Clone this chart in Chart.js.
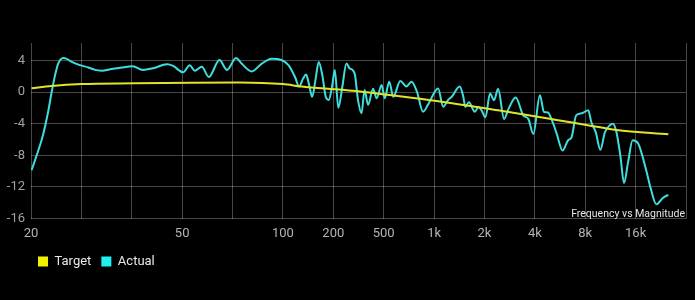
<!DOCTYPE html>
<html>
<head>
<meta charset="utf-8">
<script src="https://cdn.jsdelivr.net/npm/chart.js@4.4.1/dist/chart.umd.min.js"></script>
<style>
  html, body { margin: 0; padding: 0; background: #000; }
  #wrap { width: 695px; height: 300px; position: relative; }
</style>
</head>
<body>
<div id="wrap"><canvas id="freqChart"></canvas></div>
<script>
// Frequency response - target vs measured
// x positions are in axis-slot units (one slot per grid column)
const tickLabels = ['20', '', '', '50', '', '100', '200', '500', '1k', '2k', '4k', '8k', '16k', ''];
const yTicks = [-16, -12, -8, -4, 0, 4];

const targetPos = [0.01, 0.41, 1.0, 2.06, 3.2, 4.15, 5.0, 5.37, 6.03, 6.23, 7.2, 8.12, 9.3, 10.4, 11.05, 11.62, 12.65];
const targetDb  = [0.47, 0.76, 1.0, 1.1, 1.18, 1.2, 1.0, 0.7, 0.35, 0.25, -0.45, -1.2, -2.35, -3.5, -4.2, -4.8, -5.35];

const actualPos = [
  0.01, 0.14, 0.24, 0.34, 0.41, 0.48, 0.54, 0.64, 0.71, 0.81, 0.97, 1.14, 1.27, 1.40, 1.60, 1.80,
  2.02, 2.22, 2.42, 2.70, 2.82, 3.02, 3.15, 3.25, 3.39, 3.53, 3.74, 3.89, 4.07, 4.18, 4.38, 4.58,
  4.78, 4.97, 5.11, 5.24, 5.32, 5.40, 5.46, 5.52, 5.58, 5.65, 5.71, 5.78, 5.85, 5.91, 5.98, 6.03,
  6.10, 6.18, 6.26, 6.32, 6.38, 6.43, 6.49, 6.56, 6.62, 6.69, 6.79, 6.86, 6.96, 7.02, 7.11, 7.19,
  7.33, 7.45, 7.55, 7.66, 7.78, 7.88, 8.08, 8.18, 8.28, 8.35, 8.51, 8.58, 8.62, 8.69, 8.81, 8.88,
  8.94, 9.02, 9.11, 9.19, 9.27, 9.39, 9.48, 9.62, 9.77, 9.87, 9.97, 10.10, 10.18, 10.26, 10.34,
  10.43, 10.55, 10.66, 10.73, 10.82, 10.93, 11.06, 11.12, 11.21, 11.30, 11.39, 11.49, 11.55, 11.62,
  11.70, 11.77, 11.85, 11.94, 12.05, 12.21, 12.30, 12.41, 12.54, 12.65
];
const actualDb = [
  -9.9, -7.5, -5.4, -2.5, 0, 2.2, 3.6, 4.3, 4.2, 3.8, 3.4, 3.1, 2.8, 2.7, 2.9, 3.1,
  3.25, 2.8, 3.0, 3.5, 3.3, 2.5, 3.4, 2.7, 3.2, 1.9, 4.05, 2.8, 4.3, 3.6, 2.6, 3.6,
  4.2, 4.05, 3.4, 1.9, 0.7, 1.7, 2.2, 0.9, -0.6, 1.7, 3.8, 2.2, -0.6, -1.0, 0.9, 2.8,
  -2.0, 0.7, 3.6, 3.0, 2.8, 2.15, -1.0, -2.7, 0.25, -1.6, 0.4, -0.8, 0.9, -0.8, 1.3, -0.6,
  1.4, 0.7, 1.3, 0.05, -2.5, -1.6, 0.45, -1.85, -1.0, -0.6, 0.7, -0.6, -1.9, -1.3, -2.5, -1.9,
  -2.3, -3.2, -0.2, -1.05, 0.4, -3.4, -2.1, -0.7, -2.95, -3.4, -5.3, -0.4, -2.5, -2.6, -3.6,
  -5.2, -7.4, -6.1, -5.7, -2.95, -2.7, -2.3, -3.8, -5.1, -7.3, -5.1, -4.2, -4.0, -5.1,
  -8.2, -11.5, -8.9, -6.1, -6.5, -9.9, -12.2, -14.2, -13.4, -13.0
];

const toPoints = (xs, ys) => xs.map((x, i) => ({ x: x, y: ys[i] }));

// small caption in the lower right corner of the plot
const captionPlugin = {
  id: 'caption',
  afterLayout(chart) {
    // legend sits indented under the y axis labels
    if (chart.legend) chart.legend.left = 28;
  },
  afterDraw(chart) {
    const { ctx, chartArea } = chart;
    ctx.save();
    ctx.font = '10.5px Roboto';
    ctx.fillStyle = '#e6e6e6';
    ctx.textAlign = 'right';
    ctx.textBaseline = 'alphabetic';
    ctx.fillText('Frequency vs Magnitude', chartArea.right - 1, chartArea.bottom - 1.5);
    ctx.restore();
  }
};

const gridColor = 'rgba(255,255,255,0.28)';

new Chart(document.getElementById('freqChart'), {
  type: 'line',
  data: {
    datasets: [{
      label: 'Target',
      data: toPoints(targetPos, targetDb),
      borderColor: '#e3e32c',
      backgroundColor: '#f2f200',
      borderWidth: 2,
      pointRadius: 0,
      cubicInterpolationMode: 'monotone'
    }, {
      label: 'Actual',
      data: toPoints(actualPos, actualDb),
      borderColor: '#3fdede',
      backgroundColor: '#1ff0f0',
      borderWidth: 2,
      pointRadius: 0,
      cubicInterpolationMode: 'monotone'
    }]
  },
  options: {
    responsive: true,
    maintainAspectRatio: false,
    animation: false,
    layout: { padding: { left: 0, right: 9, top: 43, bottom: 22 } },
    scales: {
      x: {
        type: 'linear',
        min: 0,
        max: 13,
        afterFit: (scale) => { scale.height = 26.5; },
        afterBuildTicks: (scale) => { scale.ticks = tickLabels.map((_, i) => ({ value: i })); },
        grid: { color: gridColor, drawTicks: false },
        border: { display: false },
        ticks: {
          color: '#b4b4b4',
          font: { family: 'Roboto', size: 13 },
          padding: 7,
          maxRotation: 0,
          autoSkip: false,
          callback: (v) => tickLabels[Math.round(v)]
        }
      },
      y: {
        min: -16,
        max: 6.2,
        afterFit: (scale) => { scale.width = 31; },
        afterBuildTicks: (scale) => { scale.ticks = yTicks.map(v => ({ value: v })); },
        grid: { color: gridColor, drawTicks: false },
        border: { display: false },
        ticks: {
          color: '#a0a0a0',
          font: { family: 'Roboto', size: 13 },
          padding: 6
        }
      }
    },
    plugins: {
      legend: {
        position: 'bottom',
        align: 'start',
        labels: {
          color: '#e8e8e8',
          font: { family: 'Roboto', size: 13 },
          boxWidth: 10,
          boxHeight: 10,
          padding: 10,
          generateLabels: (chart) =>
            Chart.defaults.plugins.legend.labels.generateLabels(chart).map(l => ({ ...l, lineWidth: 0 }))
        }
      },
      tooltip: { enabled: false }
    }
  },
  plugins: [captionPlugin]
});
</script>
</body>
</html>
